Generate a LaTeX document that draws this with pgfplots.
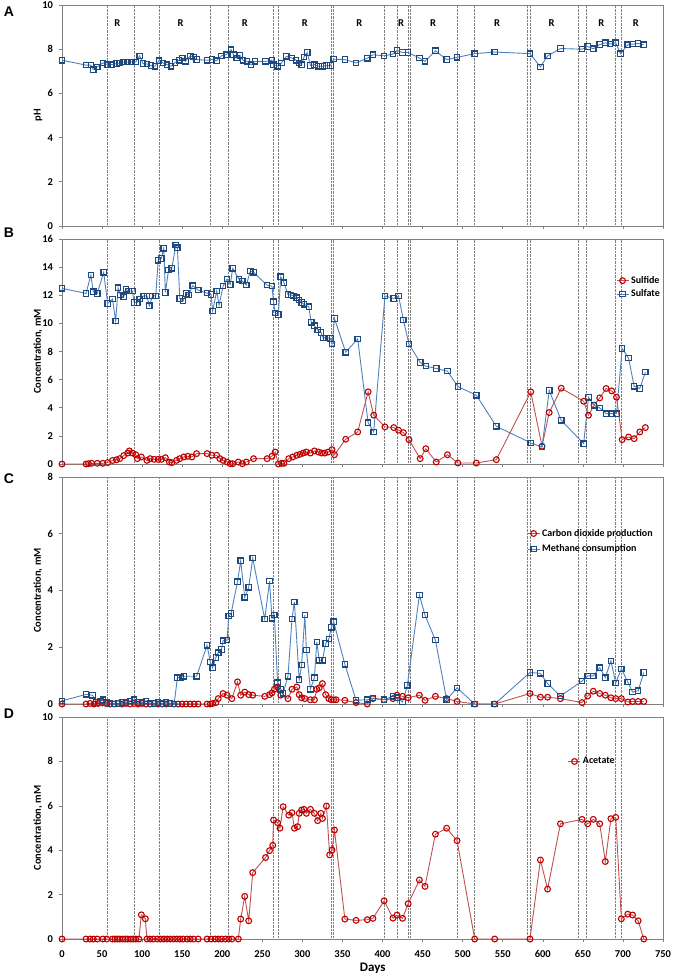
\documentclass[border=0pt]{standalone}
\usepackage{pgfplots}
\usepackage{pgfplotstable}
\pgfplotsset{compat=1.18}
\usepackage{fontspec}
\setmainfont{Carlito}
\newfontfamily\arialfont{Liberation Sans}

\definecolor{bline}{HTML}{4F81BD}
\definecolor{bmark}{HTML}{1F497D}
\definecolor{rline}{HTML}{C0504D}
\definecolor{rmark}{HTML}{C00000}

\pgfplotstableread{
d v
0 7.5
30 7.28
36 7.28
39 7.08
44 7.2
51 7.38
57 7.3
62 7.3
68 7.35
72 7.38
77 7.42
82 7.42
87 7.42
92 7.42
97 7.7
101 7.35
106 7.33
111 7.26
116 7.23
121 7.48
126 7.38
131 7.3
136 7.23
141 7.4
146 7.5
150 7.6
154 7.45
160 7.7
164 7.65
168 7.53
181 7.5
187 7.53
193 7.48
199 7.7
205 7.75
211 7.98
214 7.75
218 7.6
222 7.72
226 7.5
231 7.45
236 7.3
241 7.45
254 7.45
262 7.5
264 7.3
269 7.23
274 7.38
280 7.68
287 7.6
292 7.5
296 7.38
299 7.3
302 7.65
306 7.85
310 7.26
315 7.3
320 7.23
325 7.23
330 7.26
335 7.26
339 7.55
353 7.53
367 7.38
381 7.59
388 7.75
402 7.7
413 7.78
418 7.94
425 7.85
432 7.85
446 7.6
453 7.45
466 7.93
480 7.53
493 7.63
515 7.8
540 7.87
584 7.8
597 7.2
606 7.7
622 8.03
649 8.0
656 8.12
663 8.02
671 8.21
678 8.29
684 8.23
691 8.29
697 7.8
706 8.2
712 8.23
719 8.26
726 8.2
}\phdata

\pgfplotstableread{
d v
0 12.49
30 12.13
36 13.44
39 12.25
44 12.13
52 13.63
57 11.42
63 11.73
67 10.16
70 12.53
73 12.01
77 11.89
80 12.42
83 12.3
88 12.3
90 11.49
94 11.49
97 11.73
102 11.96
106 11.96
109 11.25
113 11.96
117 11.96
120 14.48
124 14.62
127 15.34
129 12.2
133 13.79
137 13.91
142 15.57
144 15.38
147 11.77
151 11.58
155 12.13
158 12.01
163 12.68
170 12.37
181 12.15
186 12.06
188 10.87
193 12.3
196 11.3
201 12.65
206 13.15
210 12.77
213 13.91
221 13.13
225 13.0
230 12.72
235 13.72
239 13.63
256 12.72
262 12.65
264 11.54
266 10.75
270 10.63
273 13.32
277 12.89
282 12.06
286 12.01
289 11.96
293 11.82
296 11.66
299 11.49
302 11.35
308 11.18
311 10.07
315 9.83
319 9.52
323 9.35
326 8.97
330 8.97
335 8.93
337 8.52
340 10.35
354 7.95
369 8.9
382 2.94
389 2.28
403 11.96
414 11.77
420 11.96
426 10.23
433 8.52
447 7.22
454 6.96
467 6.79
481 6.6
494 5.51
517 4.89
542 2.68
585 1.5
599 1.21
608 5.22
623 3.11
651 1.45
657 4.75
664 4.18
671 3.99
679 3.58
686 3.58
692 3.58
699 8.21
707 7.53
714 5.53
721 5.37
728 6.53
}\sulfate

\pgfplotstableread{
d v
0 0
30 0
33 0.02
37 0.05
44 0.05
51 0.05
57 0.1
63 0.25
68 0.3
72 0.38
77 0.6
82 0.78
84 0.93
88 0.78
92 0.66
94 0.38
99 0.5
106 0.26
110 0.38
115 0.33
120 0.33
124 0.33
129 0.45
134 0.14
137 0.1
143 0.26
147 0.38
152 0.5
157 0.55
162 0.5
168 0.74
181 0.74
187 0.62
193 0.62
197 0.38
201 0.26
206 0.14
210 0.02
213 0.02
220 0.14
225 0.02
230 0.14
239 0.38
256 0.38
262 0.55
266 0.85
270 0
274 0.05
277 0.05
283 0.38
288 0.5
293 0.62
297 0.69
301 0.78
305 0.85
310 0.78
315 0.93
320 0.85
324 0.78
328 0.78
332 0.85
337 1.02
340 0.66
354 1.76
369 2.28
382 5.13
389 3.47
403 2.64
414 2.59
420 2.4
426 2.23
433 1.73
447 0.38
454 1.09
467 0.14
481 0.66
494 0.07
517 0.07
542 0.31
585 5.13
599 1.26
608 3.66
623 5.39
651 4.46
657 3.47
664 4.18
671 4.7
679 5.37
686 5.2
692 4.75
699 1.73
707 1.92
714 1.8
721 2.28
728 2.59
}\sulfide

\pgfplotstableread{
d v
0 0.11
30 0.34
38 0.31
43 0.05
48 0.1
51 0.15
56 0.05
60 0.02
65 0.0
70 0.02
75 0.05
80 0.05
85 0.1
90 0.15
95 0.05
100 0.05
105 0.1
110 0.02
115 0.02
120 0.05
125 0.02
130 0.05
135 0.02
140 0.0
144 0.93
148 0.93
152 0.98
168 0.98
181 2.07
185 1.48
188 1.28
192 1.64
195 1.81
199 1.92
201 2.23
206 2.25
208 3.1
211 3.19
219 4.31
223 5.05
228 3.76
233 4.11
238 5.14
253 2.99
259 4.33
262 3.02
265 3.13
269 0.75
273 0.52
276 0.38
282 0.98
287 2.99
290 3.6
296 0.86
299 1.37
303 3.13
305 1.9
310 0.52
315 0.93
318 2.19
321 1.54
325 1.54
329 2.13
333 2.29
336 2.7
339 2.9
353 1.4
367 0.13
381 0.15
388 0.21
402 0.15
413 0.27
418 0.22
425 0.07
431 0.66
446 3.84
453 3.13
466 2.25
480 0.15
493 0.57
515 0.0
540 0.0
584 1.11
597 1.08
606 0.72
622 0.28
649 0.81
656 0.99
663 0.99
671 1.28
678 0.93
685 1.52
691 0.74
698 1.24
706 0.78
712 0.42
719 0.47
726 1.11
}\methane

\pgfplotstableread{
d v
0 0
30 0
35 0.02
40 0
45 0.02
50 0.05
55 0.02
60 0
65 0
70 0.02
75 0
80 0.02
85 0
90 0.02
95 0
100 0.02
105 0
110 0
115 0.02
120 0
125 0
130 0
135 0.02
140 0
145 0
150 0
155 0
160 0
165 0
170 0
181 0
185 0
188 0.02
192 0.05
195 0.19
201 0.37
206 0.31
212 0.19
219 0.78
223 0.31
228 0.42
233 0.33
238 0.31
253 0.27
259 0.33
262 0.39
265 0.52
269 0.6
273 0.31
282 0.19
287 0.52
293 0.6
296 0.33
299 0.22
303 0.19
310 0.15
315 0.15
318 0.52
321 0.57
325 0.72
329 0.33
333 0.19
336 0.15
339 0.15
342 0.15
353 0.13
367 0.05
381 0.0
388 0.19
402 0.15
413 0.19
418 0.31
425 0.27
432 0.22
446 0.31
453 0.13
466 0.27
480 0.19
493 0.09
515 0.0
540 0.0
584 0.37
597 0.24
606 0.24
622 0.19
649 0.05
656 0.28
663 0.45
671 0.37
678 0.31
685 0.22
691 0.19
698 0.19
706 0.07
712 0.09
719 0.09
726 0.09
}\cotwo

\pgfplotstableread{
d v
0 0
30 0
35 0
39 0
44 0
51 0
56 0
63 0
66 0
69 0
72 0
76 0
79 0
82 0
86 0
89 0
92 0
96 0
99 1.09
104 0.91
106 0
110 0
114 0
119 0
123 0
127 0
131 0
135 0
139 0
143 0
147 0
151 0
156 0
160 0
164 0
170 0
181 0
186 0
191 0
195 0
199 0
204 0
208 0
212 0
220 0
223 0.9
228 1.92
233 0.82
238 2.99
254 3.67
259 3.98
263 4.22
264 5.36
269 5.24
272 4.99
276 5.96
283 5.58
287 5.69
290 4.99
294 5.06
296 5.66
299 5.81
302 5.84
305 5.66
310 5.84
315 5.66
319 5.33
323 5.66
325 5.43
330 5.99
334 3.79
337 4.01
340 4.91
353 0.9
367 0.84
381 0.87
388 0.93
402 1.72
413 0.94
418 1.08
425 0.93
432 1.59
446 2.66
453 2.37
466 4.72
480 4.99
493 4.43
515 0
540 0
584 0
597 3.56
606 2.25
622 5.19
649 5.39
656 5.19
663 5.39
671 5.19
678 3.49
685 5.42
691 5.48
698 0.91
706 1.12
712 1.08
719 0.82
726 0
}\acetate

\tikzset{rlab/.style={font=\bfseries\fontsize{10.5}{12}\selectfont}}

\pgfplotsset{
  panel/.style={
    scale only axis, width=601pt,
    xmin=0, xmax=750, xtick={0,50,...,750},
    clip=false,
    tick align=outside, xtick pos=bottom, ytick pos=left,
    major tick length=3pt,
    axis line style={draw=black!50, line width=0.9pt},
    tick style={draw=black!50, line width=0.6pt},
    /pgf/number format/assume math mode=true,
    tick label style={font=\bfseries\fontsize{10.5}{12}\selectfont},
    yticklabel style={xshift=-2.5pt},
    ylabel style={font=\bfseries\fontsize{10.5}{12}\selectfont, at={(axis description cs:-0.04,0.5)}, anchor=center},
    extra x ticks={56,90,121,185,208,264,270,336,339,402,418,432,434,493,515,580,584,644,654,691,698},
    extra x tick labels={},
    extra x tick style={grid=major, major tick length=0pt},
    major grid style={densely dotted, black!50, line width=0.55pt},
    legend style={draw=none, fill=none, font=\bfseries\fontsize{10}{12}\selectfont, row sep=1pt, cells={anchor=west}, inner sep=1pt},
    legend image code/.code={\draw[mark repeat=2, mark phase=2] plot coordinates {(0pt,0pt) (6pt,0pt) (12pt,0pt)};},
  },
  bser/.style={color=bline, line width=0.9pt, mark=square, mark size=2.7pt, mark options={draw=bmark, fill=bline!12, line width=1.2pt, solid}},
  rser/.style={color=rline, line width=0.9pt, mark=o, mark size=2.9pt, mark options={draw=rmark, fill=white, line width=1.1pt, solid}},
}

\begin{document}
\begin{tikzpicture}
\useasboundingbox (0pt,0pt) rectangle (672pt,-976pt);

% Panel A
\begin{axis}[panel, at={(62pt,-226pt)}, anchor=south west, height=221pt,
  ymin=0, ymax=10, ytick={0,2,...,10}, xticklabels={}, ylabel={pH}]
\addplot[bser] table[x=d,y=v] {\phdata};
\pgfplotsinvokeforeach{69,148,228,303,371,423,463,543,611,673,716}{
  \node[rlab] at (axis cs:#1,9.2) {R};
}
\end{axis}

% Panel B
\begin{axis}[panel, at={(62pt,-464pt)}, anchor=south west, height=225pt,
  ymin=0, ymax=16, ytick={0,2,...,16}, xticklabels={}, ylabel={Concentration, mM},
  legend style={at={(axis description cs:0.920,0.848)}, anchor=north west}]
\addplot[rser] table[x=d,y=v] {\sulfide};
\addlegendentry{Sulfide}
\addplot[bser] table[x=d,y=v] {\sulfate};
\addlegendentry{Sulfate}
\end{axis}

% Panel C
\begin{axis}[panel, at={(62pt,-704pt)}, anchor=south west, height=227pt,
  ymin=0, ymax=8, ytick={0,2,...,8}, xticklabels={}, ylabel={Concentration, mM},
  legend style={at={(axis description cs:0.772,0.784)}, anchor=north west, row sep=3pt}]
\addplot[rser] table[x=d,y=v] {\cotwo};
\addlegendentry{Carbon dioxide production}
\addplot[bser] table[x=d,y=v] {\methane};
\addlegendentry{Methane consumption}
\end{axis}

% Panel D
\begin{axis}[panel, at={(62pt,-939pt)}, anchor=south west, height=222pt,
  ymin=0, ymax=10, ytick={0,2,...,10}, ylabel={Concentration, mM},
  xticklabel style={yshift=-5pt},
  xlabel={Days}, xlabel style={font=\bfseries\fontsize{13}{15}\selectfont, at={(axis description cs:0.517,-0.1306)}, anchor=center},
  legend style={at={(axis description cs:0.840,0.832)}, anchor=north west}]
\addplot[rser] table[x=d,y=v] {\acetate};
\addlegendentry{Acetate}
\end{axis}

\node[font=\arialfont\bfseries\fontsize{14}{16}\selectfont] at (9pt,-12pt) {A};
\node[font=\arialfont\bfseries\fontsize{14}{16}\selectfont] at (9pt,-233pt) {B};
\node[font=\arialfont\bfseries\fontsize{14}{16}\selectfont] at (9pt,-479pt) {C};
\node[font=\arialfont\bfseries\fontsize{14}{16}\selectfont] at (9pt,-714pt) {D};
\end{tikzpicture}
\end{document}
